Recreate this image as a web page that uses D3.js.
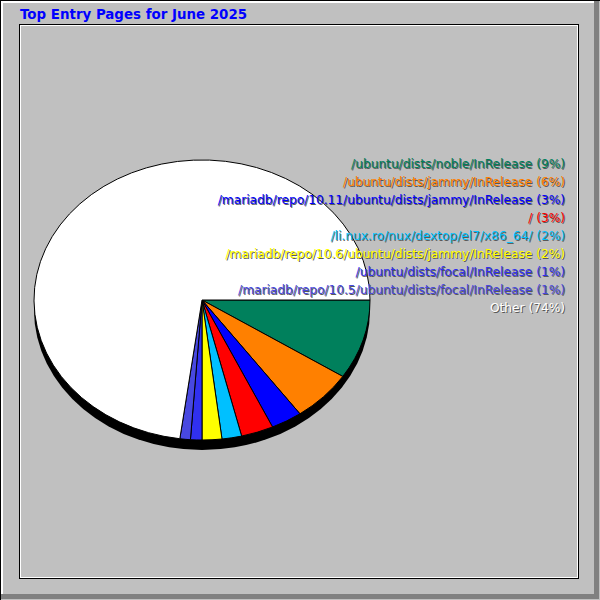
<!DOCTYPE html>
<html>
<head>
<meta charset="utf-8">
<script src="https://cdn.jsdelivr.net/npm/d3@7"></script>
<style>
  body { margin: 0; background: #ffffff; }
  svg text { font-family: "DejaVu Sans", sans-serif; }
</style>
</head>
<body>
<div id="chart"></div>
<script>
// entry pages, in the order webalizer draws them (clockwise from 3 o'clock)
const pages = [
    "/ubuntu/dists/noble/InRelease",
    "/ubuntu/dists/jammy/InRelease",
    "/mariadb/repo/10.11/ubuntu/dists/jammy/InRelease",
    "/",
    "/li.nux.ro/nux/dextop/el7/x86_64/",
    "/mariadb/repo/10.6/ubuntu/dists/jammy/InRelease",
    "/ubuntu/dists/focal/InRelease",
    "/mariadb/repo/10.5/ubuntu/dists/focal/InRelease",
    "Other"
];
// share of entries
const shares = [9.2, 5.9, 3.0, 3.1, 1.9, 1.9, 1.1, 1.0, 72.9];
// percentages as printed in the legend
const pctLabels = ["9%", "6%", "3%", "3%", "2%", "2%", "1%", "1%", "74%"];
const sliceColors = ["#00805c", "#ff8000", "#0000ff", "#ff0000", "#00c0ff",
                     "#ffff00", "#3030f0", "#4848e0", "#ffffff"];

const W = 600, H = 600;
const svg = d3.select("#chart").append("svg")
    .attr("width", W)
    .attr("height", H);

// frame
svg.append("rect").attr("x", 0).attr("y", 0).attr("width", W).attr("height", H).attr("fill", "#c0c0c0");
svg.append("rect").attr("x", 0).attr("y", 0).attr("width", W).attr("height", 1).attr("fill", "#000");
svg.append("rect").attr("x", 0).attr("y", 0).attr("width", 1).attr("height", H).attr("fill", "#000");
svg.append("rect").attr("x", 1).attr("y", 1).attr("width", W - 6).attr("height", 2).attr("fill", "#fff");
svg.append("rect").attr("x", 1).attr("y", 1).attr("width", 2).attr("height", H - 6).attr("fill", "#fff");
svg.append("rect").attr("x", W - 6).attr("y", 1).attr("width", 5).attr("height", H - 2).attr("fill", "#808080");
svg.append("rect").attr("x", 1).attr("y", H - 6).attr("width", W - 2).attr("height", 5).attr("fill", "#808080");

// inner panel
svg.append("rect")
    .attr("x", 19.5).attr("y", 24.5)
    .attr("width", 559).attr("height", 554)
    .attr("fill", "none").attr("stroke", "#000");
svg.append("rect")
    .attr("x", 20.5).attr("y", 25.5)
    .attr("width", 557).attr("height", 552)
    .attr("fill", "none").attr("stroke", "#fff");

svg.append("text")
    .attr("x", 20)
    .attr("y", 19)
    .style("font-size", "13.4px")
    .style("font-weight", "bold")
    .attr("fill", "#0000ff")
    .text("Top Entry Pages for June 2025");

// pie
const cx = 202, cy = 300, rx = 168, ry = 140;
const g = svg.append("g").attr("transform", "translate(" + cx + "," + cy + ")");

g.append("ellipse")
    .attr("cx", 0).attr("cy", 10)
    .attr("rx", rx).attr("ry", ry)
    .attr("fill", "#000");

const data = pages.map(function (p, i) {
    return {page: p, share: shares[i], pct: pctLabels[i], color: sliceColors[i]};
});

const pie = d3.pie()
    .sort(null)
    .value(function (d) { return d.share; })
    .startAngle(Math.PI / 2)
    .endAngle(Math.PI / 2 + 2 * Math.PI);

const arc = d3.arc().innerRadius(0).outerRadius(1);

const pg = g.append("g").attr("transform", "scale(" + rx + "," + ry + ")");
pg.selectAll(".slice")
    .data(pie(data))
    .enter().append("path")
    .attr("class", "slice")
    .attr("d", arc)
    .attr("fill", function (d) { return d.data.color; })
    .attr("stroke", "#000")
    .attr("stroke-width", 1)
    .attr("vector-effect", "non-scaling-stroke");

// legend
const y = d3.scalePoint()
    .domain(pages)
    .range([168, 312]);

const leg = svg.append("g").style("font-size", "12.2px").attr("text-anchor", "end");
leg.selectAll(".shadow")
    .data(data)
    .enter().append("text")
    .attr("class", "shadow")
    .attr("x", 566)
    .attr("y", function (d) { return y(d.page) + 1; })
    .attr("fill", "#585858")
    .text(function (d) { return d.page + " (" + d.pct + ")"; });
leg.selectAll(".label")
    .data(data)
    .enter().append("text")
    .attr("class", "label")
    .attr("x", 565)
    .attr("y", function (d) { return y(d.page); })
    .attr("fill", function (d) { return d.color; })
    .text(function (d) { return d.page + " (" + d.pct + ")"; });
</script>
</body>
</html>
